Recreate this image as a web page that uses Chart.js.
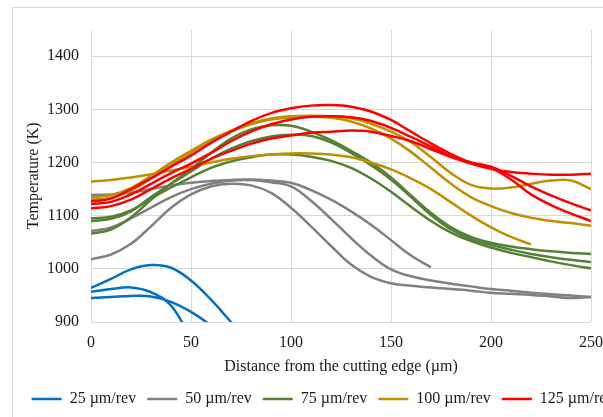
<!DOCTYPE html>
<html>
<head>
<meta charset="utf-8">
<script src="https://cdn.jsdelivr.net/npm/chart.js@4.4.1/dist/chart.umd.min.js"></script>
<style>
  html, body { margin: 0; padding: 0; background: #fff; overflow: hidden; width: 603px; height: 417px; }
  #frame { position: absolute; left: 12px; top: 7px; width: 620px; height: 425px; border: 1px solid #d9d9d9; background: #fff; }
  canvas { display: block; }
</style>
</head>
<body>
<div id="frame"><canvas id="chart" width="620" height="425"></canvas></div>
<script>
// Distance from the cutting edge (µm)
const distance = [0, 10, 20, 30, 40, 50, 60, 70, 80, 90, 100, 110, 120, 130, 140, 150, 160, 170, 180, 190, 200, 210, 220, 230, 240, 250];

// Temperature (K), feed 25 µm/rev
const feed25a = [964, 981, 999, 1007, 1002, 978, 942, 900, 858, null, null, null, null, null, null, null, null, null, null, null, null, null, null, null, null, null];
const feed25b = [957, 962, 965, 956, 931, 868, null, null, null, null, null, null, null, null, null, null, null, null, null, null, null, null, null, null, null, null];
const feed25c = [945, 947, 949, 948, 938, 919, 893, 858, null, null, null, null, null, null, null, null, null, null, null, null, null, null, null, null, null, null];

// feed 50 µm/rev
const feed50a = [1139, 1140, 1143, 1150, 1157, 1162, 1165, 1167, 1168, 1166, 1162, 1148, 1130, 1108, 1083, 1054, 1025, 1003, null, null, null, null, null, null, null, null];
const feed50b = [1071, 1078, 1095, 1115, 1135, 1150, 1160, 1166, 1167, 1163, 1155, 1128, 1094, 1058, 1025, 999, 986, 978, 972, 967, 962, 959, 955, 952, 950, 947];
const feed50c = [1018, 1027, 1047, 1080, 1115, 1140, 1155, 1160, 1157, 1143, 1115, 1080, 1043, 1008, 985, 973, 968, 965, 962, 959, 955, 953, 951, 948, 945, 947];

// feed 75 µm/rev
const feed75a = [1066, 1074, 1097, 1130, 1160, 1188, 1218, 1245, 1262, 1270, 1269, 1258, 1242, 1222, 1200, 1172, 1138, 1105, 1078, 1060, 1049, 1042, 1037, 1033, 1030, 1028];
const feed75b = [1090, 1094, 1108, 1135, 1160, 1183, 1207, 1226, 1240, 1249, 1252, 1250, 1238, 1218, 1195, 1168, 1135, 1101, 1074, 1056, 1045, 1036, 1028, 1022, 1017, 1013];
const feed75c = [1095, 1098, 1110, 1132, 1153, 1172, 1190, 1202, 1210, 1215, 1215, 1211, 1203, 1190, 1170, 1145, 1117, 1090, 1068, 1052, 1040, 1030, 1022, 1014, 1007, 1001];

// feed 100 µm/rev
const feed100a = [1164, 1167, 1172, 1178, 1185, 1192, 1200, 1207, 1212, 1215, 1217, 1217, 1215, 1210, 1200, 1187, 1170, 1150, 1125, 1100, 1078, 1060, 1046, null, null, null];
const feed100b = [1134, 1139, 1152, 1175, 1200, 1222, 1243, 1260, 1274, 1283, 1287, 1288, 1287, 1283, 1273, 1258, 1238, 1210, 1180, 1158, 1151, 1153, 1160, 1166, 1166, 1150];
const feed100c = [1130, 1134, 1147, 1170, 1195, 1218, 1240, 1258, 1272, 1281, 1285, 1286, 1284, 1277, 1264, 1245, 1220, 1190, 1160, 1135, 1118, 1105, 1096, 1090, 1086, 1081];

// feed 125 µm/rev
const feed125a = [1127, 1132, 1150, 1170, 1192, 1213, 1237, 1258, 1278, 1293, 1302, 1307, 1308, 1305, 1296, 1280, 1258, 1236, 1216, 1200, 1190, 1168, 1140, 1120, 1104, 1090];
const feed125b = [1122, 1126, 1140, 1160, 1180, 1198, 1218, 1240, 1258, 1272, 1281, 1286, 1287, 1285, 1278, 1265, 1248, 1230, 1212, 1200, 1192, 1175, 1155, 1138, 1123, 1110];
const feed125c = [1114, 1118, 1130, 1150, 1170, 1188, 1207, 1222, 1235, 1245, 1251, 1256, 1258, 1260, 1258, 1250, 1240, 1225, 1210, 1198, 1188, 1182, 1179, 1177, 1177, 1179];

const feedLabels = ['25 µm/rev', '50 µm/rev', '75 µm/rev', '100 µm/rev', '125 µm/rev'];
const feedColors = ['#0070C0', '#808080', '#548235', '#BF9000', '#FF0000'];
const feedSeries = [
  [feed25a, feed25b, feed25c],
  [feed50a, feed50b, feed50c],
  [feed75a, feed75b, feed75c],
  [feed100a, feed100b, feed100c],
  [feed125a, feed125b, feed125c]
];

const yTicks = [900, 1000, 1100, 1200, 1300, 1400];
const xTicks = [0, 50, 100, 150, 200, 250];

const FONT = "'Liberation Serif', 'Times New Roman', serif";
const TEXT = '#1a1a1a';
const GRID = '#d9d9d9';
const LINE_W = 2.5;

Chart.defaults.font.family = FONT;
Chart.defaults.font.size = 16;
Chart.defaults.color = TEXT;

const datasets = [];
const firstIndex = [];
feedSeries.forEach((group, gi) => {
  firstIndex.push(datasets.length);
  group.forEach(values => {
    datasets.push({
      label: feedLabels[gi],
      data: distance.map((x, i) => ({ x: x, y: values[i] })).filter(p => p.y !== null),
      borderColor: feedColors[gi],
      backgroundColor: feedColors[gi],
      borderWidth: LINE_W,
      pointRadius: 0,
      pointHoverRadius: 0,
      tension: 0.4,
      fill: false,
      order: feedSeries.length - gi
    });
  });
});

const plainLabel = v => String(v);

new Chart(document.getElementById('chart'), {
  type: 'line',
  data: { datasets: datasets },
  options: {
    responsive: false,
    animation: false,
    devicePixelRatio: 1,
    layout: { padding: { top: 17, left: 0, right: 0, bottom: 16 } },
    plugins: {
      tooltip: { enabled: false },
      legend: {
        display: true,
        position: 'bottom',
        align: 'center',
        labels: {
          usePointStyle: true,
          pointStyleWidth: 30,
          padding: 11,
          color: TEXT,
          font: { family: FONT, size: 16 },
          generateLabels: () => feedLabels.map((text, gi) => ({
            text: text,
            strokeStyle: feedColors[gi],
            fillStyle: feedColors[gi],
            fontColor: TEXT,
            lineWidth: LINE_W,
            pointStyle: 'line',
            hidden: false,
            datasetIndex: firstIndex[gi]
          }))
        }
      }
    },
    scales: {
      x: {
        type: 'linear',
        min: xTicks[0],
        max: xTicks[xTicks.length - 1],
        afterBuildTicks: s => { s.ticks = xTicks.map(v => ({ value: v })); },
        afterFit: s => { s.height = 58; },
        grid: { color: GRID, lineWidth: 1, drawTicks: false },
        border: { display: false },
        ticks: { padding: 11, color: TEXT, font: { family: FONT, size: 16 }, maxRotation: 0, callback: plainLabel },
        title: {
          display: true,
          text: 'Distance from the cutting edge (µm)',
          color: TEXT,
          font: { family: FONT, size: 16 },
          padding: { top: 5, bottom: 4 }
        }
      },
      y: {
        type: 'linear',
        position: 'left',
        min: 900,
        max: 1450,
        afterBuildTicks: s => { s.ticks = yTicks.map(v => ({ value: v })); },
        afterFit: s => { s.width = 78; },
        grid: { color: GRID, lineWidth: 1, drawTicks: false },
        border: { display: false },
        ticks: { padding: 12, color: TEXT, font: { family: FONT, size: 16 }, callback: plainLabel },
        title: {
          display: true,
          text: 'Temperature (K)',
          color: TEXT,
          font: { family: FONT, size: 16 },
          padding: { top: 11, bottom: 0 }
        }
      },
      yRight: {
        type: 'linear',
        position: 'right',
        display: true,
        min: 900,
        max: 1450,
        afterFit: s => { s.width = 42; },
        grid: { display: false },
        border: { display: false },
        ticks: { display: false }
      }
    }
  }
});
</script>
</body>
</html>
